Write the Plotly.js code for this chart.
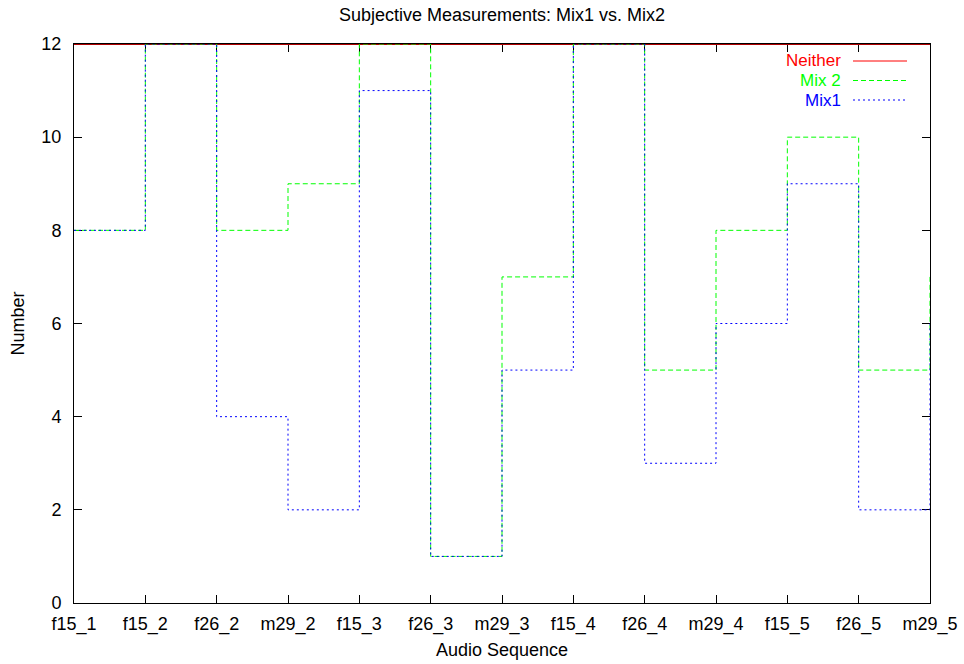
<!DOCTYPE html>
<html>
<head>
<meta charset="utf-8">
<script src="https://cdn.plot.ly/plotly-3.0.1.min.js"></script>
<style>
html,body{margin:0;padding:0;background:#fff;}
#chart{width:964px;height:664px;}
</style>
</head>
<body>
<div id="chart"></div>
<script>
// Data
const categories = ["f15_1","f15_2","f26_2","m29_2","f15_3","f26_3","m29_3","f15_4","f26_4","m29_4","f15_5","f26_5","m29_5"];
const neither = [12,12,12,12,12,12,12,12,12,12,12,12,12];
const mix2    = [8,12,8,9,12,1,7,12,5,8,10,5,7];
const mix1    = [8,12,4,2,11,1,5,12,3,6,9,2,6];
const seriesNames = ["Neither","Mix 2","Mix1"];
const yTicks = [0,2,4,6,8,10,12];

const xIdx = categories.map((c,i)=>i);
const FONT = "Liberation Sans, Arial, Helvetica, sans-serif";
const FS = 18;

const traces = [
  {x:xIdx, y:neither, type:'scatter', mode:'lines', line:{shape:'hv', color:'#b00000', width:2}, name:seriesNames[0], showlegend:false, hoverinfo:'skip'},
  {x:xIdx, y:mix2, type:'scatter', mode:'lines', line:{shape:'hv', color:'#00ff00', width:1, dash:'5px,3px'}, name:seriesNames[1], showlegend:false, hoverinfo:'skip'},
  {x:xIdx, y:mix1, type:'scatter', mode:'lines', line:{shape:'hv', color:'#0000ff', width:1, dash:'2px,3px'}, name:seriesNames[2], showlegend:false, hoverinfo:'skip'}
];

// Custom gnuplot-style legend (text right-aligned, sample line to its right)
const L = 74, R = 930, T = 44, B = 603;
const px = v => (v - L) / (R - L);
const py = v => (B - v) / (B - T);
const legColors = ['#ff0000','#00ff00','#0000ff'];
const legDash = ['solid','5px,3px','2px,3px'];
const legY = [61, 80.5, 100];
const annotations = [];
const shapes = [];
seriesNames.forEach((n,i)=>{
  annotations.push({xref:'paper', yref:'paper', x:px(843), y:py(legY[i]), xanchor:'right', yanchor:'middle',
    text:n, showarrow:false, font:{family:FONT, size:17, color:legColors[i]}});
  shapes.push({type:'line', xref:'paper', yref:'paper', x0:px(853), x1:px(907), y0:py(legY[i]), y1:py(legY[i]),
    line:{color:legColors[i], width:1, dash:legDash[i]}});
});

const layout = {
  width:964, height:664,
  margin:{l:L, r:964-R, t:T, b:664-B},
  paper_bgcolor:'#fff', plot_bgcolor:'#fff',
  font:{family:FONT, size:FS, color:'#000'},
  title:{text:'Subjective Measurements: Mix1 vs. Mix2', font:{family:FONT, size:FS, color:'#000'},
    x:0.5, xref:'paper', xanchor:'center', y:1-15/664, yref:'container', yanchor:'middle'},
  xaxis:{range:[0,12], tickmode:'array', tickvals:xIdx, ticktext:categories,
    ticks:'inside', ticklen:8, tickcolor:'#000', tickwidth:1, ticklabelstandoff:4,
    showline:true, linecolor:'#000', linewidth:1, mirror:'ticks', showgrid:false, zeroline:false,
    layer:'below traces', fixedrange:true,
    title:{text:'Audio Sequence', font:{family:FONT, size:FS, color:'#000'}, standoff:9},
    tickfont:{family:FONT, size:FS, color:'#000'}},
  yaxis:{range:[0,12], tickmode:'array', tickvals:yTicks,
    ticks:'inside', ticklen:8, tickcolor:'#000', tickwidth:1, ticklabelstandoff:8,
    showline:true, linecolor:'#000', linewidth:1, mirror:'ticks', showgrid:false, zeroline:false,
    layer:'below traces', fixedrange:true,
    title:{text:'Number', font:{family:FONT, size:FS, color:'#000'}, standoff:12},
    tickfont:{family:FONT, size:FS, color:'#000'}},
  showlegend:false,
  annotations:annotations,
  shapes:shapes
};

Plotly.newPlot('chart', traces, layout, {staticPlot:true, displayModeBar:false});
</script>
</body>
</html>
